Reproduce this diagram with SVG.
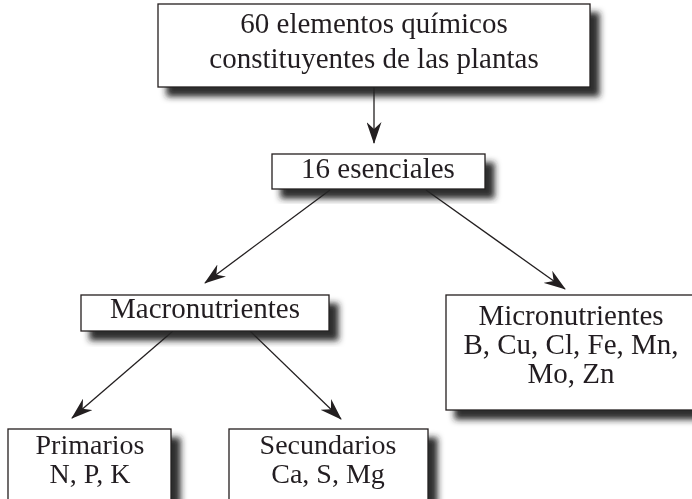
<svg xmlns="http://www.w3.org/2000/svg" width="692" height="499" viewBox="0 0 692 499">
<style>
.box{fill:#fff;stroke:#231f20;stroke-width:1.3}
.t{font-family:"Liberation Serif","Times New Roman",serif;font-size:29px;fill:#231f20;text-anchor:middle}
.s{font-size:28px}
.c{stroke:#231f20;stroke-width:1.3;fill:none}
</style>
<defs>
<filter id="sh" x="-20%" y="-20%" width="140%" height="160%">
<feOffset in="SourceAlpha" dx="9" dy="9" result="o"/>
<feGaussianBlur in="o" stdDeviation="3" result="b"/>
<feFlood flood-color="#222" flood-opacity="0.95"/>
<feComposite in2="b" operator="in" result="s"/>
<feMerge><feMergeNode in="s"/><feMergeNode in="SourceGraphic"/></feMerge>
</filter>
<marker id="ah" viewBox="0 0 22 15" refX="21" refY="7.5" markerWidth="22" markerHeight="15" markerUnits="userSpaceOnUse" orient="auto">
<path d="M0,0 L22,7.5 L0,15 L7,7.5 Z" fill="#231f20"/>
</marker>
</defs>
<rect width="692" height="499" fill="#fff"/>
<g id="connectors">
<line class="c" x1="374" y1="87" x2="374" y2="143" marker-end="url(#ah)"/>
<line class="c" x1="330" y1="190" x2="205" y2="283" marker-end="url(#ah)"/>
<line class="c" x1="426" y1="190" x2="565" y2="289" marker-end="url(#ah)"/>
<line class="c" x1="173" y1="331" x2="72" y2="418" marker-end="url(#ah)"/>
<line class="c" x1="250" y1="331" x2="341" y2="419" marker-end="url(#ah)"/>
</g>
<g id="n-elementos" filter="url(#sh)">
<rect class="box" x="158" y="4" width="432" height="83"/>
<text class="t" x="374" y="33">60 elementos químicos</text>
<text class="t" x="374" y="68">constituyentes de las plantas</text>
</g>
<g id="n-esenciales" filter="url(#sh)">
<rect class="box" x="272" y="154" width="213" height="35"/>
<text class="t" x="378" y="178">16 esenciales</text>
</g>
<g id="n-macro" filter="url(#sh)">
<rect class="box" x="81" y="295" width="248" height="36"/>
<text class="t" x="205" y="318">Macronutrientes</text>
</g>
<g id="n-micro" filter="url(#sh)">
<rect class="box" x="446" y="295" width="252" height="115"/>
<text class="t" x="571" y="325">Micronutrientes</text>
<text class="t" x="571" y="354">B, Cu, Cl, Fe, Mn,</text>
<text class="t" x="571" y="383">Mo, Zn</text>
</g>
<g id="n-primarios" filter="url(#sh)">
<rect class="box" x="8" y="429" width="163" height="80"/>
<text class="t s" x="90" y="454">Primarios</text>
<text class="t s" x="90" y="483">N, P, K</text>
</g>
<g id="n-secundarios" filter="url(#sh)">
<rect class="box" x="229" y="429" width="199" height="80"/>
<text class="t s" x="328" y="454">Secundarios</text>
<text class="t s" x="328" y="483">Ca, S, Mg</text>
</g>
</svg>
